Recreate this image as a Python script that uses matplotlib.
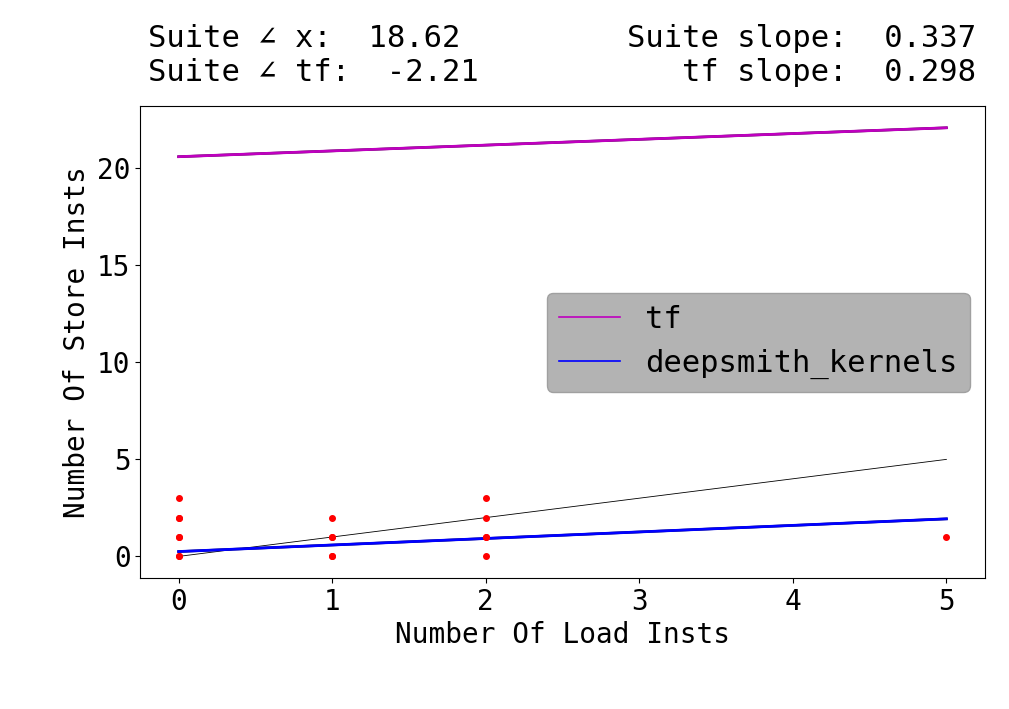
import matplotlib
matplotlib.use("Agg")
import matplotlib.pyplot as plt
import numpy as np
from matplotlib.lines import Line2D

plt.rcParams["font.family"] = ["DejaVu Sans Mono", "DejaVu Sans"]

# scatter points (load insts, store insts); repeated points overlap
pts_x = [0, 0, 0, 0, 0, 0, 0, 1, 1, 1, 1, 1, 2, 2, 2, 2, 2, 5]
pts_y = [0, 0, 1, 1, 2, 2, 3, 0, 0, 1, 1, 2, 0, 1, 1, 2, 3, 1]

# fitted lines
line_x = [0, 5]
tf_y = [20.6, 22.09]
deep_y = [0.25, 1.935]
ident_y = [0, 5]

labels = ["tf", "deepsmith_kernels"]
colors = ["m", "b"]

fig = plt.figure(figsize=(10.09, 7.09), dpi=100)
ax = fig.add_axes([0.139, 0.185, 0.837, 0.665])

ax.scatter(pts_x, pts_y, s=16, c="r", zorder=3)
ax.plot(line_x, ident_y, color="k", lw=0.6)
for y, c in zip([tf_y, deep_y], colors):
    ax.plot(line_x, y, color="k", lw=1.8)
    ax.plot(line_x, y, color=c, lw=2)

handles = [Line2D([], [], color=c, lw=1.2) for c in colors]
ax.legend(handles, labels, loc="center right", fontsize=22,
          facecolor="#b3b3b3", framealpha=1, edgecolor="#a0a0a0")

ax.set_xlabel("Number Of Load Insts", fontsize=20)
ax.set_ylabel("Number Of Store Insts", fontsize=20)
ax.tick_params(labelsize=20)
ax.set_yticks([0, 5, 10, 15, 20])

fig.text(148 / 1009, 1 - 24 / 709, "Suite ∠ x:  18.62\nSuite ∠ tf:  -2.21",
         fontsize=22, ha="left", va="top", linespacing=1.2)
fig.text(976 / 1009, 1 - 24 / 709, "Suite slope:  0.337\ntf slope:  0.298",
         fontsize=22, ha="right", va="top", linespacing=1.2, multialignment="right")

fig.savefig("out.png", dpi=100)
